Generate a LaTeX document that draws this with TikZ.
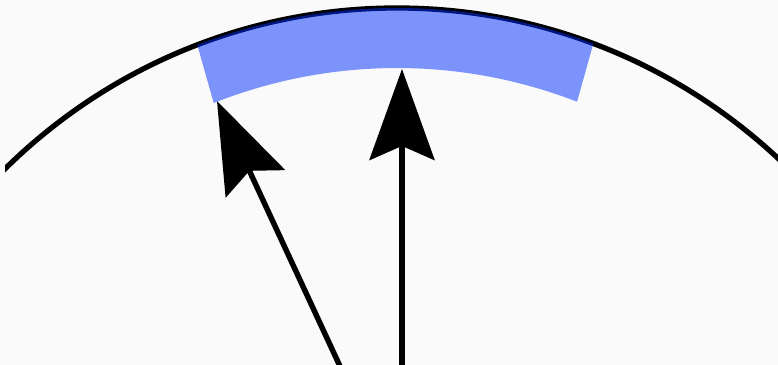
\documentclass[tikz,border=0pt]{standalone}
\usetikzlibrary{arrows.meta,calc}
\definecolor{bandblue}{RGB}{0,45,255}
\definecolor{paper}{RGB}{250,250,250}
\begin{document}
\begin{tikzpicture}[x=0.02cm,y=0.02cm,
    rim/.style={line width=3pt},
    ray/.style={line width=3.1pt, -{Stealth[length=51.8pt,width=37pt,inset=8pt]}},
    band/.style={fill=bandblue, fill opacity=0.5}]
    % frame
    \fill[paper] (0,0) rectangle (778,365);
    \useasboundingbox (0,0) rectangle (778,365);
    \clip (5,0) rectangle (778,365);
    % circle
    \coordinate (c) at (397,-201);
    \draw[rim] (c) circle (558);
    % band
    \fill[band] ($(c)+(110.97:558)$) arc[start angle=110.97, end angle=69.4, radius=558]
        -- ($(c)+(68.8:498)$) arc[start angle=68.8, end angle=111.6, radius=498] -- cycle;
    % arrows
    \coordinate (o) at (402,-135);
    \coordinate (up) at (402,296);
    \coordinate (left) at (217,264);
    \draw[ray] (o) -- (up);
    \draw[ray] (o) -- (left);
\end{tikzpicture}
\end{document}
